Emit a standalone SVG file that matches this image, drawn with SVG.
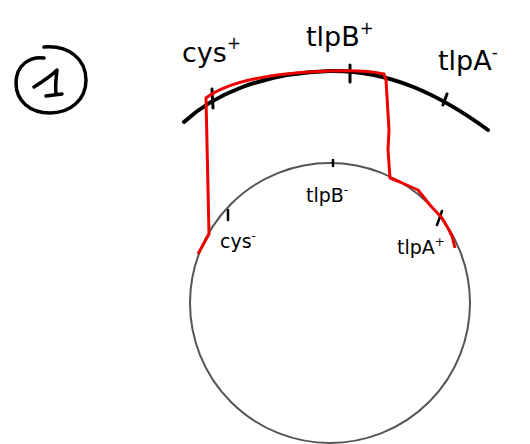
<svg xmlns="http://www.w3.org/2000/svg" width="530" height="444" viewBox="0 0 530 444">
<style>
.lbl{font-family:"DejaVu Sans",sans-serif;fill:#000}
.big{font-size:27px}
.sm{font-size:19px}
.sup{font-size:62%}
.ink{fill:none;stroke:#000;stroke-linecap:round;stroke-linejoin:round}
</style>
<rect width="530" height="444" fill="#fff"/>
<g id="step-number">
<path class="ink" stroke-width="3.5" d="M44 47 C70 45 86 60 86 80 C86 100 70 113 50 113 C30 113 16 101 16 83 C16 65 30 56 44 58"/>
<path class="ink" stroke-width="3.5" d="M34 87 C42 82 50 77 57 70 C56 78 55 86 56 93 M46 96 L62 94"/>
</g>
<g id="outer-membrane">
<path class="ink" stroke-width="4" d="M184 122 C212 96 260 73 330 71 C390 70 440 95 488 130"/>
<path class="ink" stroke-width="3" d="M212 89 L213 108 M350 65 L350 82 M447 94 L443 105"/>
</g>
<g id="inner-membrane">
<circle cx="330" cy="303" r="140" fill="none" stroke="#555" stroke-width="2"/>
<path class="ink" stroke-width="2.5" d="M228 210 L228 220 M333 160 L333 166 M442 211 L437 225"/>
</g>
<g id="connectors">
<path fill="none" stroke="#e00" stroke-width="3" stroke-linejoin="round" d="M198 254 L209 234 L206 98 C225 84 262 73 330 71 C355 70 372 71 384 74 L386 80 L389 130 L388 150 L390 178 L400 182 L418 190 L430 205 L442 218 L449 230 L452 236 L455 248"/>
</g>
<g id="labels">
<text class="lbl big" x="182" y="62">cys<tspan class="sup" dy="-13">+</tspan></text>
<text class="lbl big" x="306" y="46">tlpB<tspan class="sup" dy="-12">+</tspan></text>
<text class="lbl big" x="438" y="70">tlpA<tspan class="sup" dy="-12">-</tspan></text>
<text class="lbl sm" x="306" y="202">tlpB<tspan class="sup" dy="-8">-</tspan></text>
<text class="lbl sm" x="220" y="248">cys<tspan class="sup" dy="-8">-</tspan></text>
<text class="lbl sm" x="397" y="254">tlpA<tspan class="sup" dy="-8">+</tspan></text>
</g>
</svg>
